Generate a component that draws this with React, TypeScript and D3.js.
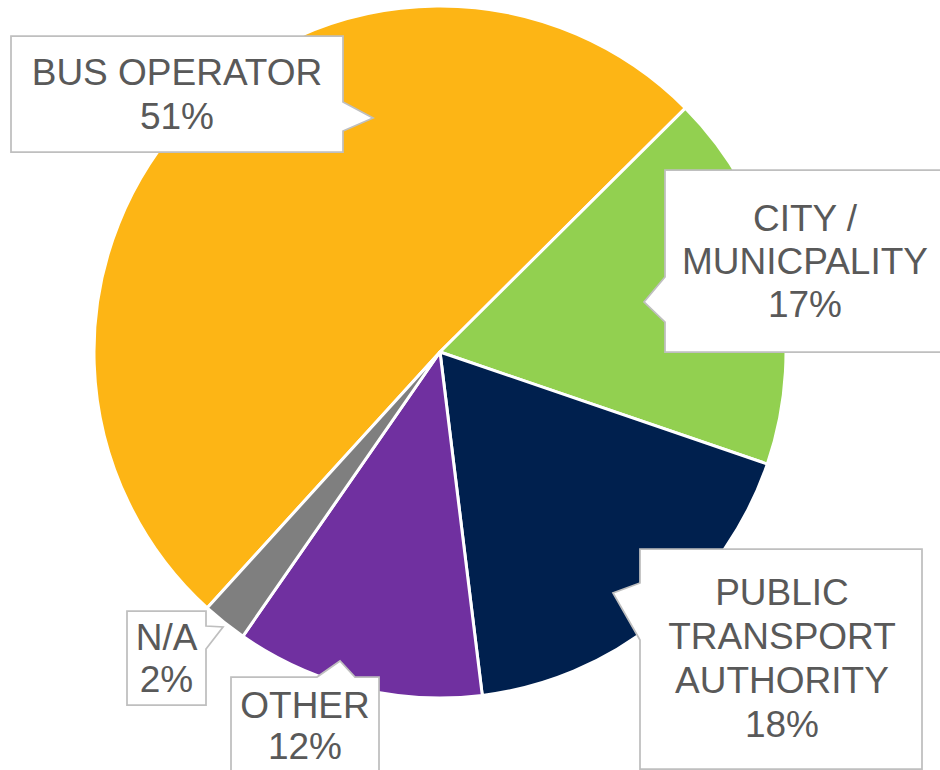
import React from "react";
import * as d3 from "d3";

const categories = ["BUS OPERATOR", "CITY / MUNICPALITY", "PUBLIC TRANSPORT AUTHORITY", "OTHER", "N/A"];
const values = [50.8, 17.7, 17.8, 11.6, 2.1];
const pctLabels = ["51%", "17%", "18%", "12%", "2%"];
const colors = ["#FDB515", "#92D050", "#00204E", "#7030A0", "#7F7F7F"];
const labelLines = [
  ["BUS OPERATOR"],
  ["CITY /", "MUNICPALITY"],
  ["PUBLIC", "TRANSPORT", "AUTHORITY"],
  ["OTHER"],
  ["N/A"],
];

// callout layout (boxes + pointers)
type Callout = {
  x0: number; y0: number; x1: number; y1: number;
  side: "left" | "right" | "top";
  a: number; b: number; tx: number; ty: number;
  cx: number; base: number; lh: number;
};
const callouts: Callout[] = [
  { x0: 11, y0: 36, x1: 343, y1: 152, side: "right", a: 102, b: 131, tx: 373, ty: 118, cx: 177, base: 85, lh: 44 },
  { x0: 665, y0: 170, x1: 946, y1: 352, side: "left", a: 277, b: 322, tx: 644, ty: 302, cx: 805, base: 231, lh: 43 },
  { x0: 640, y0: 549, x1: 922, y1: 769, side: "left", a: 583, b: 640, tx: 613, ty: 593, cx: 782, base: 605, lh: 44 },
  { x0: 231, y0: 677, x1: 379, y1: 780, side: "top", a: 317, b: 355, tx: 340, ty: 661, cx: 305, base: 718, lh: 41 },
  { x0: 127, y0: 611, x1: 206, y1: 705, side: "right", a: 626, b: 649, tx: 223, ty: 627, cx: 166.5, base: 650, lh: 42 },
];

function calloutPath(c: Callout): string {
  const { x0, y0, x1, y1, a, b, tx, ty } = c;
  if (c.side === "right")
    return `M${x0},${y0}L${x1},${y0}L${x1},${a}L${tx},${ty}L${x1},${b}L${x1},${y1}L${x0},${y1}Z`;
  if (c.side === "left")
    return `M${x0},${y0}L${x1},${y0}L${x1},${y1}L${x0},${y1}L${x0},${b}L${tx},${ty}L${x0},${a}Z`;
  return `M${x0},${y0}L${a},${y0}L${tx},${ty}L${b},${y0}L${x1},${y0}L${x1},${y1}L${x0},${y1}Z`;
}

export default function App() {
  const W = 940, H = 770;
  const cx = 440, cy = 352, R = 346;
  const start = (222.3 * Math.PI) / 180;
  const pie = d3.pie<number>().sort(null).value((d) => d).startAngle(start).endAngle(start + 2 * Math.PI);
  const arcs = pie(values);
  const arc = d3.arc<d3.PieArcDatum<number>>().innerRadius(0).outerRadius(R);
  return (
    <svg width={W} height={H} style={{ position: "absolute", left: 0, top: 0, background: "#fff" }}>
      <g transform={`translate(${cx},${cy})`}>
        {arcs.map((a, i) => (
          <path key={i} d={arc(a) || ""} fill={colors[i]} stroke="#fff" strokeWidth={3} strokeLinejoin="round" />
        ))}
      </g>
      {callouts.map((c, i) => {
        const lines = [...labelLines[i], pctLabels[i]];
        return (
          <g key={categories[i]}>
            <path d={calloutPath(c)} fill="#fff" stroke="#BFBFBF" strokeWidth={1.75} />
            <text fontFamily="'Liberation Sans', Arial, sans-serif" fontSize={37} fill="#595959" textAnchor="middle">
              {lines.map((t, j) => (
                <tspan key={j} x={c.cx} y={c.base + j * c.lh}>{t}</tspan>
              ))}
            </text>
          </g>
        );
      })}
    </svg>
  );
}
